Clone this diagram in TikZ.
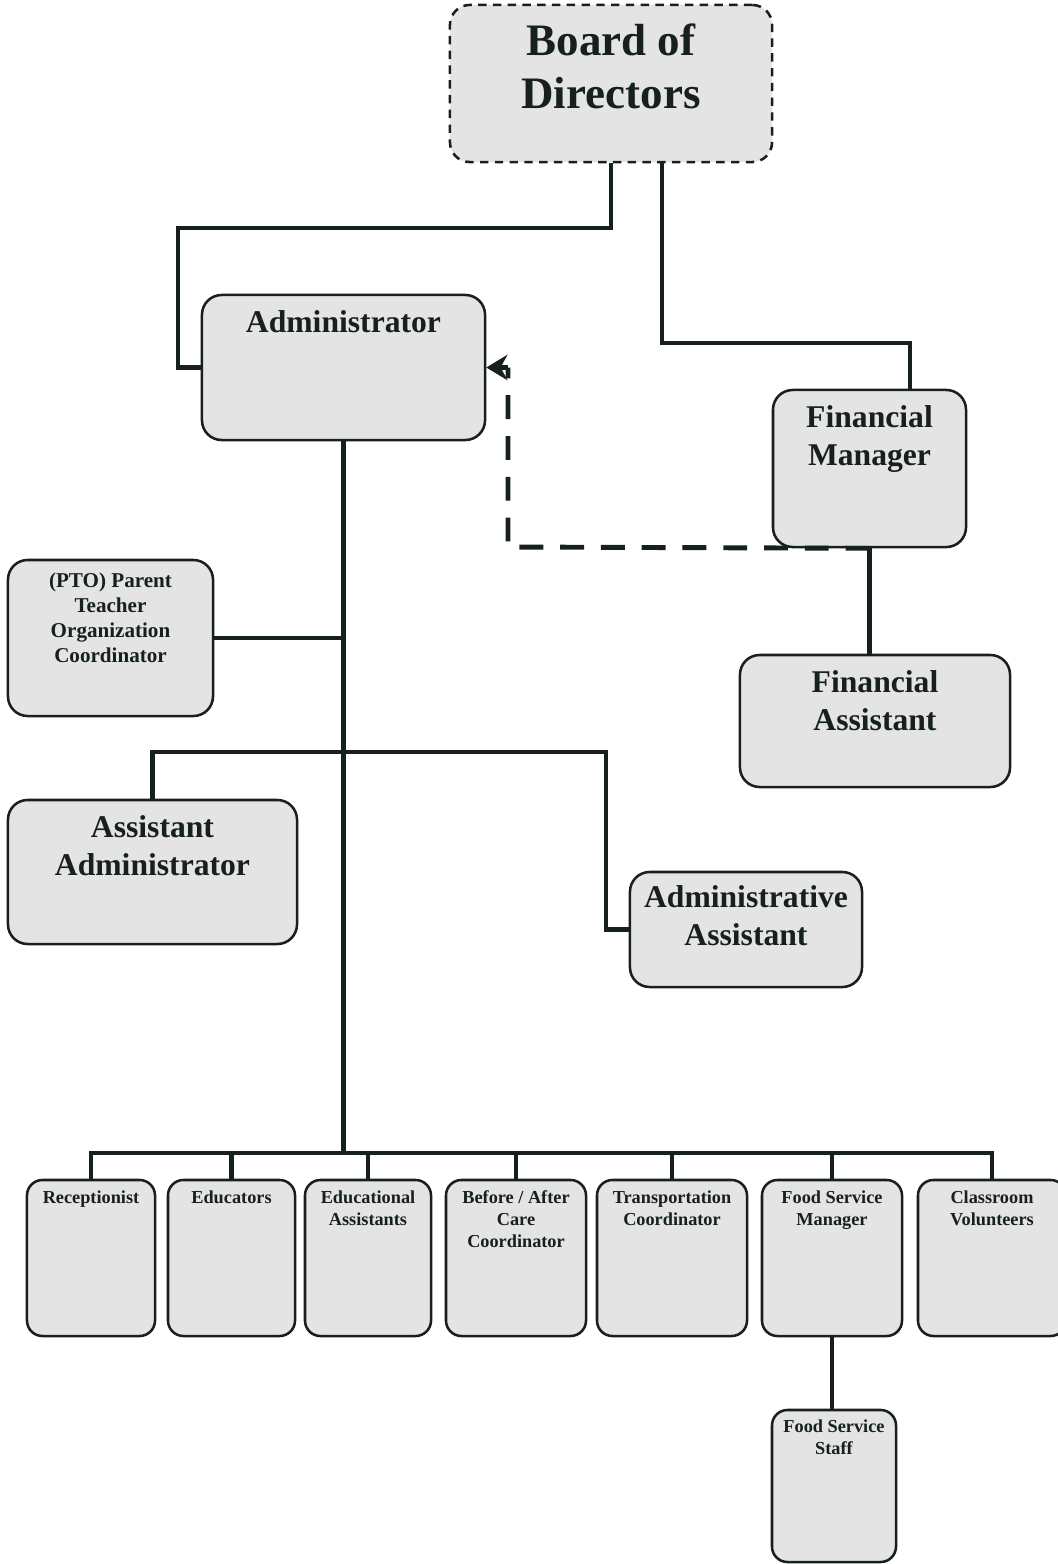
\documentclass[tikz,border=0pt]{standalone}
\usepackage{fontspec}
\setmainfont{Liberation Serif}
\usetikzlibrary{arrows.meta,positioning,calc}
\definecolor{ink}{RGB}{22,32,28}
\definecolor{shade}{RGB}{228,228,228}
\tikzset{
  unit/.style={draw=ink,line width=1.8pt,rounded corners=14pt,fill=shade},
  smallunit/.style={unit,rounded corners=11pt},
  board/.style={unit,dash pattern=on 6pt off 4.5pt},
  hd/.style={font=\bfseries\fontsize{32}{37.6}\selectfont,align=center,
    inner sep=0pt,text=ink,anchor=north},
  big/.style={font=\bfseries\fontsize{22.5}{27}\selectfont,align=center,
    inner sep=0pt,text=ink,anchor=north},
  mid/.style={font=\bfseries\fontsize{15}{17.7}\selectfont,align=center,
    inner sep=0pt,text=ink,anchor=north},
  tiny/.style={font=\bfseries\fontsize{13}{15.6}\selectfont,align=center,
    inner sep=0pt,text=ink,anchor=north},
  link/.style={draw=ink,line width=3.3pt},
  dashlink/.style={draw=ink,line width=3.5pt,dash pattern=on 17pt off 12pt},
  tiplink/.style={draw=ink,line width=3.5pt,-{Stealth[length=15pt,width=18pt]}},
}

\begin{document}
\begin{tikzpicture}[x=0.025cm,y=-0.025cm]
  \useasboundingbox (0,0) rectangle (1058,1564);

  % top of the chart
  \node[board,minimum width=8.05cm,minimum height=3.925cm,
    label={[hd,yshift=-14pt]north:{Board of\\Directors}}] (bod) at (611,83.5) {};
  \node[unit,minimum width=7.075cm,minimum height=3.625cm,
    label={[big,yshift=-12pt]north:{Administrator}}] (adm) at (343.5,367.5) {};
  \node[unit,minimum width=4.825cm,minimum height=3.925cm,
    label={[big,yshift=-12pt]north:{Financial\\Manager}}] (fm) at (869.5,468.5) {};
  \node[unit,minimum width=6.75cm,minimum height=3.3cm,
    label={[big,yshift=-11.5pt]north:{Financial\\Assistant}}] (fa) at (875,721) {};

  % middle
  \node[unit,minimum width=5.125cm,minimum height=3.9cm,
    label={[mid,yshift=-10pt]north:{(PTO) Parent\\Teacher\\Organization\\Coordinator}}] (pto) at (110.5,638) {};
  \node[unit,minimum width=7.225cm,minimum height=3.6cm,
    label={[big,yshift=-12pt]north:{Assistant\\Administrator}}] (aa) at (152.5,872) {};
  \node[unit,minimum width=5.8cm,minimum height=2.875cm,
    label={[big,yshift=-10.5pt]north:{Administrative\\Assistant}}] (aas) at (746,929.5) {};

  % bottom row
  \node[smallunit,minimum width=3.2cm,minimum height=3.9cm,
    label={[tiny,yshift=-8.5pt]north:{Receptionist}}] (rec) at (91,1258) {};
  \node[smallunit,minimum width=3.175cm,minimum height=3.9cm,
    label={[tiny,yshift=-8.5pt]north:{Educators}}] (edu) at (231.5,1258) {};
  \node[smallunit,minimum width=3.15cm,minimum height=3.9cm,
    label={[tiny,yshift=-8.5pt]north:{Educational\\Assistants}}] (edas) at (368,1258) {};
  \node[smallunit,minimum width=3.5cm,minimum height=3.9cm,
    label={[tiny,yshift=-8.5pt]north:{Before / After\\Care\\Coordinator}}] (bac) at (516,1258) {};
  \node[smallunit,minimum width=3.75cm,minimum height=3.9cm,
    label={[tiny,yshift=-8.5pt]north:{Transportation\\Coordinator}}] (trc) at (672,1258) {};
  \node[smallunit,minimum width=3.5cm,minimum height=3.9cm,
    label={[tiny,yshift=-8.5pt]north:{Food Service\\Manager}}] (fsm) at (832,1258) {};
  \node[smallunit,minimum width=3.7cm,minimum height=3.9cm,
    label={[tiny,yshift=-8.5pt]north:{Classroom\\Volunteers}}] (clv) at (992,1258) {};
  \node[smallunit,minimum width=3.1cm,minimum height=3.8cm,
    label={[tiny,yshift=-8pt]north:{Food Service\\Staff}}] (fss) at (834,1486) {};

  % connectors
  \coordinate (jl) at (178,228);
  \coordinate (jr) at (662,343);
  \coordinate (midbus) at (606,752);
  \coordinate (bus) at (343,1153);
  \coordinate (bend) at (508,547);

  \draw[link] (bod.south) |- (jl) |- (adm.west);
  \draw[link] (jr |- bod.south) -- (jr) -| ($(fm.north)+(40.5,0)$);
  \draw[link] (fm.south) -- (fm.south |- fa.north);
  \draw[link] (adm.south) -- (adm.south |- bus);
  \draw[link] (pto.east) -- (pto.east -| adm.south);
  \draw[link] (aa.north) |- (midbus) |- (aas.west);
  \draw[link] (rec.north) |- (bus) -| (clv.north);
  \foreach \b in {edu,edas,bac,trc,fsm}
    \draw[link] (\b.north) -- (\b.north |- bus);
  \draw[link] (fsm.south) -- (fsm.south |- fss.north);
  \draw[dashlink] (fm.south) -- (bend) -- (bend |- adm.east);
  \draw[tiplink] (bend |- adm.east) -- (adm.east);
\end{tikzpicture}
\end{document}
